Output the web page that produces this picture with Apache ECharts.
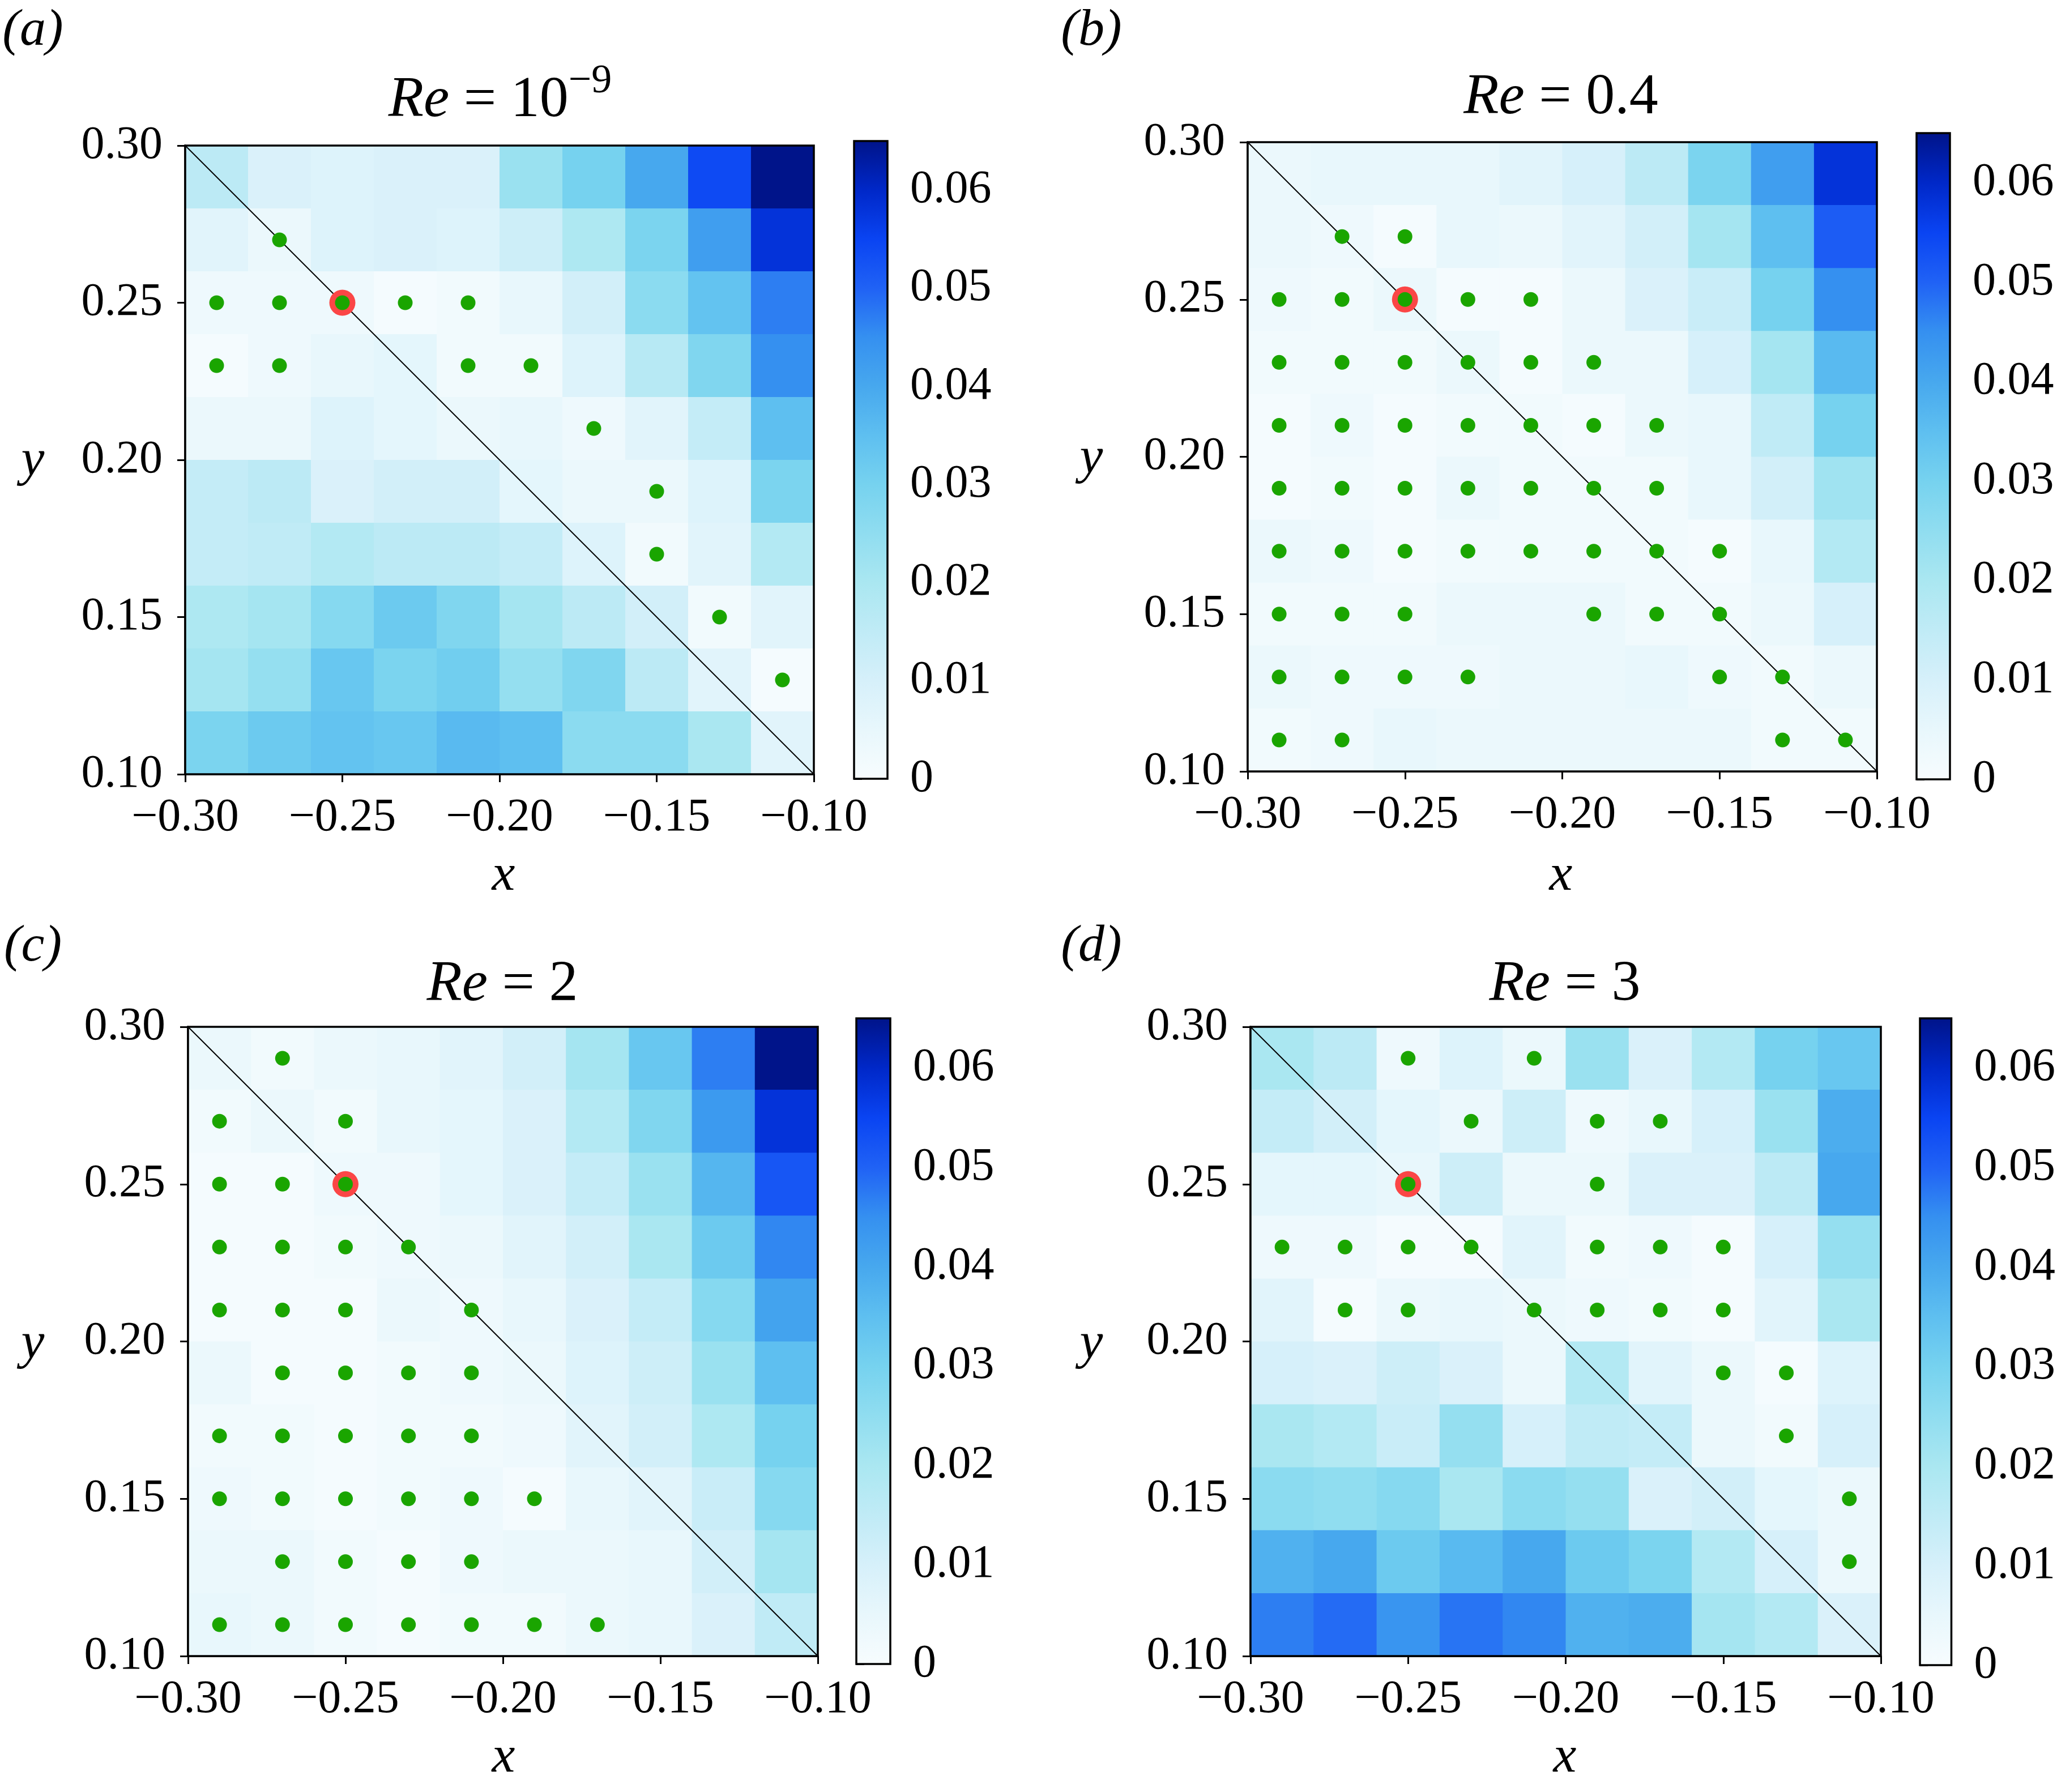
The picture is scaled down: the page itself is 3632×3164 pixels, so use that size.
<!DOCTYPE html>
<html><head><meta charset="utf-8">
<script src="https://cdn.jsdelivr.net/npm/echarts@6/dist/echarts.min.js"></script>
<style>html,body{margin:0;padding:0;background:#fff}#c{width:3632px;height:3164px}</style>
</head><body><div id="c"></div><script>
// ---------- data ----------
const xs = [-0.29,-0.27,-0.25,-0.23,-0.21,-0.19,-0.17,-0.15,-0.13,-0.11];
const ys = [0.29,0.27,0.25,0.23,0.21,0.19,0.17,0.15,0.13,0.11]; // top row first
const xTicks = [-0.30,-0.25,-0.20,-0.15,-0.10];
const yTicks = [0.10,0.15,0.20,0.25,0.30];
const cbTicks = [0,0.01,0.02,0.03,0.04,0.05,0.06];
const cbMax = 0.065;
const panelLabels = ['(a)','(b)','(c)','(d)'];
const titleRe = ['10','0.4','2','3'];
const titleSup = ['−9','','',''];
const cmapColors = ['#f7fcfe','#e8f7fc','#d6f0fa','#c0ebf6','#aae7f1','#90ddf0','#76d2ef','#5ebff0','#47a8ee','#3590f0','#2062f5','#0a44f2','#0028c8','#00148a'];

const valsA = [
 [0.016,0.009,0.008,0.009,0.009,0.023,0.030,0.040,0.054,0.065],
 [0.007,0.004,0.008,0.009,0.008,0.012,0.019,0.029,0.042,0.058],
 [0.003,0.003,0.003,0.001,0.002,0.005,0.011,0.026,0.034,0.047],
 [0.001,0.003,0.005,0.006,0.002,0.002,0.008,0.017,0.028,0.045],
 [0.004,0.004,0.008,0.006,0.004,0.005,0.003,0.007,0.014,0.035],
 [0.014,0.016,0.009,0.011,0.011,0.006,0.004,0.004,0.008,0.029],
 [0.014,0.015,0.018,0.016,0.016,0.014,0.008,0.002,0.007,0.018],
 [0.019,0.021,0.027,0.032,0.028,0.021,0.016,0.011,0.002,0.007],
 [0.021,0.024,0.033,0.029,0.031,0.024,0.028,0.016,0.007,0.001],
 [0.029,0.032,0.034,0.033,0.036,0.035,0.026,0.026,0.020,0.007]];
const valsB = [
 [0.004,0.005,0.005,0.005,0.007,0.010,0.016,0.029,0.042,0.058],
 [0.004,0.003,0.001,0.005,0.004,0.007,0.011,0.021,0.035,0.051],
 [0.003,0.002,0.004,0.001,0.001,0.004,0.009,0.013,0.030,0.045],
 [0.002,0.002,0.002,0.004,0.001,0.004,0.004,0.010,0.021,0.036],
 [0.001,0.003,0.001,0.002,0.002,0.001,0.004,0.005,0.015,0.030],
 [0.001,0.002,0.001,0.004,0.002,0.002,0.002,0.005,0.011,0.022],
 [0.004,0.003,0.001,0.002,0.002,0.002,0.002,0.001,0.005,0.018],
 [0.002,0.002,0.002,0.004,0.004,0.004,0.002,0.002,0.004,0.010],
 [0.004,0.003,0.003,0.003,0.004,0.004,0.005,0.003,0.002,0.004],
 [0.002,0.003,0.005,0.004,0.004,0.004,0.004,0.004,0.002,0.002]];
const valsC = [
 [0.004,0.002,0.004,0.005,0.007,0.011,0.021,0.033,0.047,0.065],
 [0.002,0.004,0.002,0.005,0.006,0.009,0.018,0.028,0.043,0.058],
 [0.001,0.001,0.003,0.003,0.006,0.009,0.014,0.023,0.037,0.052],
 [0.001,0.001,0.002,0.003,0.004,0.007,0.011,0.020,0.032,0.046],
 [0.001,0.001,0.001,0.004,0.003,0.005,0.009,0.014,0.027,0.041],
 [0.004,0.001,0.001,0.002,0.003,0.004,0.008,0.012,0.023,0.035],
 [0.002,0.002,0.001,0.002,0.002,0.003,0.007,0.011,0.019,0.030],
 [0.003,0.002,0.001,0.002,0.003,0.001,0.005,0.007,0.013,0.027],
 [0.004,0.004,0.002,0.001,0.003,0.004,0.004,0.005,0.011,0.021],
 [0.005,0.004,0.002,0.001,0.002,0.002,0.004,0.005,0.009,0.015]];
const valsD = [
 [0.020,0.016,0.003,0.008,0.004,0.023,0.009,0.018,0.030,0.033],
 [0.014,0.011,0.006,0.004,0.012,0.003,0.005,0.010,0.023,0.039],
 [0.006,0.006,0.005,0.012,0.004,0.004,0.009,0.009,0.016,0.040],
 [0.003,0.003,0.001,0.001,0.007,0.002,0.003,0.001,0.010,0.024],
 [0.007,0.001,0.004,0.005,0.004,0.003,0.002,0.001,0.007,0.020],
 [0.010,0.009,0.012,0.009,0.004,0.018,0.007,0.004,0.001,0.008],
 [0.020,0.018,0.013,0.024,0.010,0.015,0.014,0.004,0.002,0.010],
 [0.026,0.025,0.027,0.020,0.026,0.024,0.009,0.011,0.006,0.004],
 [0.038,0.040,0.032,0.036,0.040,0.032,0.029,0.018,0.010,0.004],
 [0.047,0.049,0.044,0.048,0.046,0.038,0.039,0.021,0.018,0.009]];

const dotsA = [[-0.27,0.27],[-0.29,0.25],[-0.27,0.25],[-0.25,0.25],[-0.23,0.25],[-0.21,0.25],
 [-0.29,0.23],[-0.27,0.23],[-0.21,0.23],[-0.19,0.23],[-0.17,0.21],[-0.15,0.19],[-0.15,0.17],[-0.13,0.15],[-0.11,0.13]];
const dotsB = [[-0.27,0.27],[-0.25,0.27],
 [-0.29,0.25],[-0.27,0.25],[-0.25,0.25],[-0.23,0.25],[-0.21,0.25],
 [-0.29,0.23],[-0.27,0.23],[-0.25,0.23],[-0.23,0.23],[-0.21,0.23],[-0.19,0.23],
 [-0.29,0.21],[-0.27,0.21],[-0.25,0.21],[-0.23,0.21],[-0.21,0.21],[-0.19,0.21],[-0.17,0.21],
 [-0.29,0.19],[-0.27,0.19],[-0.25,0.19],[-0.23,0.19],[-0.21,0.19],[-0.19,0.19],[-0.17,0.19],
 [-0.29,0.17],[-0.27,0.17],[-0.25,0.17],[-0.23,0.17],[-0.21,0.17],[-0.19,0.17],[-0.17,0.17],[-0.15,0.17],
 [-0.29,0.15],[-0.27,0.15],[-0.25,0.15],[-0.19,0.15],[-0.17,0.15],[-0.15,0.15],
 [-0.29,0.13],[-0.27,0.13],[-0.25,0.13],[-0.23,0.13],[-0.15,0.13],[-0.13,0.13],
 [-0.29,0.11],[-0.27,0.11],[-0.13,0.11],[-0.11,0.11]];
const dotsC = [[-0.27,0.29],
 [-0.29,0.27],[-0.25,0.27],
 [-0.29,0.25],[-0.27,0.25],[-0.25,0.25],
 [-0.29,0.23],[-0.27,0.23],[-0.25,0.23],[-0.23,0.23],
 [-0.29,0.21],[-0.27,0.21],[-0.25,0.21],[-0.21,0.21],
 [-0.27,0.19],[-0.25,0.19],[-0.23,0.19],[-0.21,0.19],
 [-0.29,0.17],[-0.27,0.17],[-0.25,0.17],[-0.23,0.17],[-0.21,0.17],
 [-0.29,0.15],[-0.27,0.15],[-0.25,0.15],[-0.23,0.15],[-0.21,0.15],[-0.19,0.15],
 [-0.27,0.13],[-0.25,0.13],[-0.23,0.13],[-0.21,0.13],
 [-0.29,0.11],[-0.27,0.11],[-0.25,0.11],[-0.23,0.11],[-0.21,0.11],[-0.19,0.11],[-0.17,0.11]];
const dotsD = [[-0.25,0.29],[-0.21,0.29],
 [-0.23,0.27],[-0.19,0.27],[-0.17,0.27],
 [-0.25,0.25],[-0.19,0.25],
 [-0.29,0.23],[-0.27,0.23],[-0.25,0.23],[-0.23,0.23],[-0.19,0.23],[-0.17,0.23],[-0.15,0.23],
 [-0.27,0.21],[-0.25,0.21],[-0.21,0.21],[-0.19,0.21],[-0.17,0.21],[-0.15,0.21],
 [-0.15,0.19],[-0.13,0.19],
 [-0.13,0.17],
 [-0.11,0.15],
 [-0.11,0.13]];
const highlight = [[-0.25,0.25],[-0.25,0.25],[-0.25,0.25],[-0.25,0.25]];
const diag = [[-0.30,0.30],[-0.10,0.10]];

const allVals = [valsA,valsB,valsC,valsD];
const allDots = [dotsA,dotsB,dotsC,dotsD];

// ---------- layout (pixels) ----------
const plotBox = [[327,257,1110,1110],[2203,251,1111,1111],[332,1813,1112,1111],[2208,1813,1113,1111]];
const cbBox = [[1508,249,59,1126],[3384,235,59,1141],[1512,1798,60,1140],[3390,1798,59,1142]];
const labelPos = [[58,55],[1927,55],[58,1672],[1927,1672]];
const titlePos = [[883,178],[2756,173],[887,1739],[2763,1739]];
const xNamePos = [[889,1547],[2756,1547],[889,3104],[2763,3104]];
const yNamePos = [[58,815],[1927,811],[58,2374],[1927,2374]];

const FONT = "'Liberation Serif','Times New Roman',serif";
const halfW = Math.abs(xs[1]-xs[0])/2, halfH = Math.abs(ys[0]-ys[1])/2;
const fmtAxis = v => (v < 0 ? '−' : '') + Math.abs(v).toFixed(2);
const fmtCb = v => v === 0 ? '0' : v.toFixed(2);

const grids=[], xAxes=[], yAxes=[], series=[], graphics=[];
const cellSeriesIdx=[];

for (let i=0;i<4;i++){
  const [l,t,w,h] = plotBox[i];
  grids.push({left:l, top:t, width:w, height:h, show:true, backgroundColor:'transparent', borderColor:'#000', borderWidth:3.5, z:10});
  xAxes.push({type:'value', gridIndex:i, min:xTicks[0], max:xTicks[xTicks.length-1],
    axisLine:{show:true, onZero:false, lineStyle:{color:'#000',width:3.5}},
    axisTick:{show:true, length:14, lineStyle:{color:'#000',width:3}, customValues:xTicks},
    axisLabel:{show:true, customValues:xTicks, formatter:fmtAxis, fontFamily:FONT, fontSize:82, color:'#000', margin:36},
    splitLine:{show:false}});
  yAxes.push({type:'value', gridIndex:i, min:yTicks[0], max:yTicks[yTicks.length-1],
    axisLine:{show:true, onZero:false, lineStyle:{color:'#000',width:3.5}},
    axisTick:{show:true, length:14, lineStyle:{color:'#000',width:3}, customValues:yTicks},
    axisLabel:{show:true, customValues:yTicks, formatter:v=>v.toFixed(2), fontFamily:FONT, fontSize:82, color:'#000', margin:40},
    splitLine:{show:false}});
}
for (let i=0;i<4;i++){
  const [l,t,w,h] = cbBox[i];
  grids.push({left:l, top:t, width:w, height:h, show:true, backgroundColor:'transparent', borderColor:'#000', borderWidth:3.5, z:10});
  xAxes.push({type:'value', gridIndex:4+i, min:0, max:1, show:false});
  yAxes.push({type:'value', gridIndex:4+i, position:'right', min:0, max:cbMax,
    axisLine:{show:false},
    axisTick:{show:true, length:14, lineStyle:{color:'#000',width:3}, customValues:cbTicks},
    axisLabel:{show:true, customValues:cbTicks, formatter:fmtCb, fontFamily:FONT, fontSize:82, color:'#000', margin:40},
    splitLine:{show:false}});
}

function renderCell(params, api){
  const x=api.value(0), y=api.value(1);
  const a=api.coord([x-halfW, y+halfH]), b=api.coord([x+halfW, y-halfH]);
  return {type:'rect', shape:{x:a[0], y:a[1], width:b[0]-a[0]+0.8, height:b[1]-a[1]+0.8}, style:{fill:api.visual('color')}};
}
const cbStops = cmapColors.map((c,k)=>({offset:k/(cmapColors.length-1), color:c}));
function renderCb(params, api){
  const a=api.coord([0, api.value(1)]), b=api.coord([1, api.value(0)]);
  return {type:'rect', shape:{x:a[0], y:a[1], width:b[0]-a[0], height:b[1]-a[1]},
    style:{fill:new echarts.graphic.LinearGradient(0,1,0,0,cbStops)}};
}

for (let i=0;i<4;i++){
  const data=[];
  allVals[i].forEach((row,r)=>row.forEach((v,c)=>data.push([xs[c], ys[r], v])));
  cellSeriesIdx.push(series.length);
  series.push({type:'custom', xAxisIndex:i, yAxisIndex:i, data, renderItem:renderCell, clip:true, z:2, silent:true});
  series.push({type:'line', xAxisIndex:i, yAxisIndex:i, data:diag, symbol:'none', lineStyle:{color:'#000',width:2}, z:3, silent:true, animation:false});
  series.push({type:'scatter', xAxisIndex:i, yAxisIndex:i, data:[highlight[i]], symbolSize:46, itemStyle:{color:'#fb4646',opacity:1}, z:4, silent:true});
  series.push({type:'scatter', xAxisIndex:i, yAxisIndex:i, data:allDots[i], symbolSize:26, itemStyle:{color:'#1aa500',opacity:1}, z:5, silent:true});
  series.push({type:'custom', xAxisIndex:4+i, yAxisIndex:4+i, data:[[0,cbMax]], renderItem:renderCb, z:2, silent:true});

  graphics.push({type:'text', x:labelPos[i][0], y:labelPos[i][1], style:{text:panelLabels[i], fontFamily:FONT, fontSize:92, fontStyle:'italic', fill:'#000', align:'center', verticalAlign:'middle'}});
  const ttext = '{i|Re} = ' + titleRe[i] + (titleSup[i] ? '{s|' + titleSup[i] + '}' : '');
  graphics.push({type:'text', x:titlePos[i][0], y:titlePos[i][1], style:{text:ttext, fontFamily:FONT, fontSize:102, lineHeight:140, fill:'#000', align:'center', verticalAlign:'middle',
    rich:{i:{fontFamily:FONT, fontSize:102, lineHeight:140, fontStyle:'italic', fill:'#000'}, s:{fontFamily:FONT, fontSize:72, lineHeight:72, fill:'#000', verticalAlign:'top'}}}});
  graphics.push({type:'text', x:xNamePos[i][0], y:xNamePos[i][1], style:{text:'x', fontFamily:FONT, fontSize:92, fontStyle:'italic', fill:'#000', align:'center', verticalAlign:'middle'}});
  graphics.push({type:'text', x:yNamePos[i][0], y:yNamePos[i][1], style:{text:'y', fontFamily:FONT, fontSize:92, fontStyle:'italic', fill:'#000', align:'center', verticalAlign:'middle'}});
}

const chart = echarts.init(document.getElementById('c'), null, {renderer:'canvas'});
chart.setOption({
  animation:false,
  backgroundColor:'#fff',
  grid:grids, xAxis:xAxes, yAxis:yAxes,
  visualMap:{type:'continuous', show:false, min:0, max:cbMax, dimension:2, seriesIndex:cellSeriesIdx, inRange:{color:cmapColors}},
  series, graphic:graphics
});
</script></body></html>
